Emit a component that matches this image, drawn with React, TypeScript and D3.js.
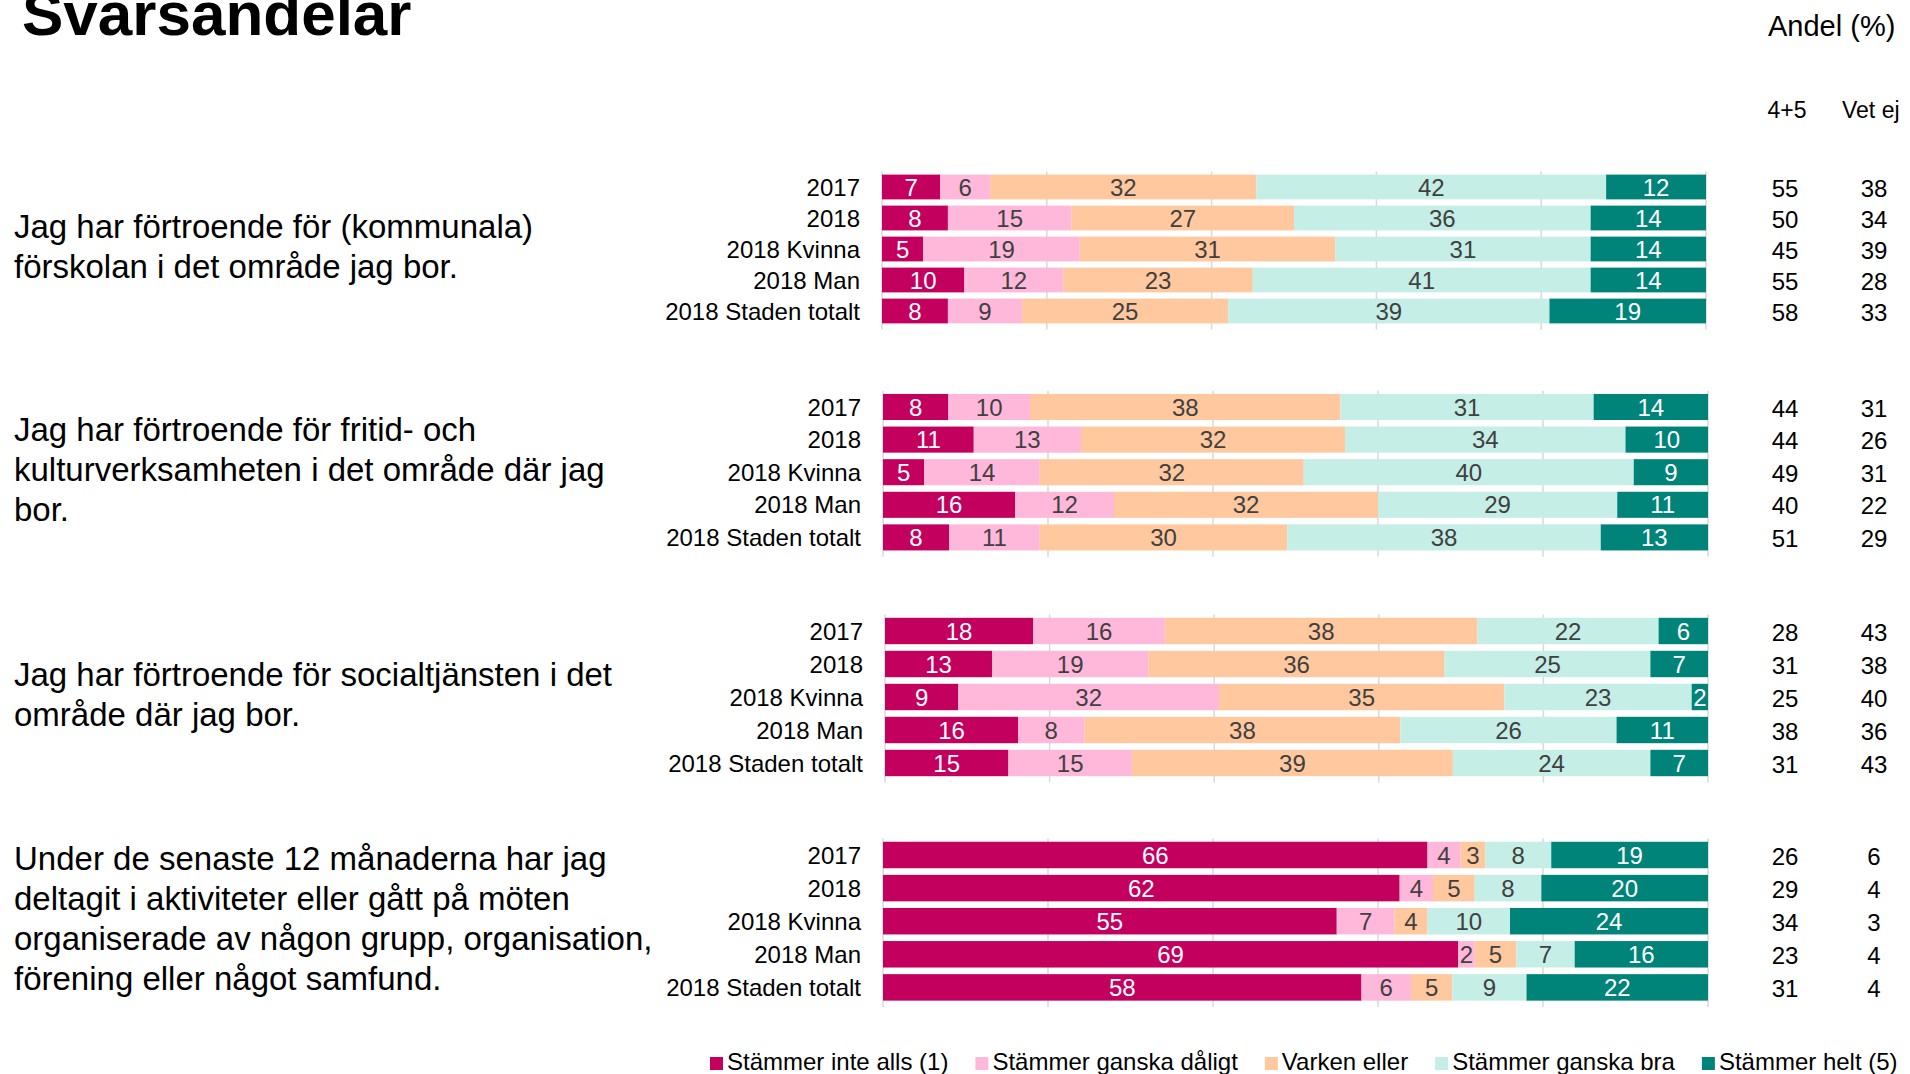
import React, { useEffect, useRef } from "react";
import * as d3 from "d3";

// ---------- data ----------
const categories = ["2017", "2018", "2018 Kvinna", "2018 Man", "2018 Staden totalt"];
const seriesNames = [
  "Stämmer inte alls (1)",
  "Stämmer ganska dåligt",
  "Varken eller",
  "Stämmer ganska bra",
  "Stämmer helt (5)",
];
const seriesColors = ["#C4005F", "#FFB8DA", "#FFC89E", "#C4EEE6", "#00847A"];
const labelColors = ["#FFFFFF", "#404040", "#404040", "#404040", "#FFFFFF"];

const questionForskolan = ["Jag har förtroende för (kommunala)", "förskolan i det område jag bor."];
const questionFritid = ["Jag har förtroende för fritid- och", "kulturverksamheten i det område där jag", "bor."];
const questionSocial = ["Jag har förtroende för socialtjänsten i det", "område där jag bor."];
const questionAktivitet = [
  "Under de senaste 12 månaderna har jag",
  "deltagit i aktiviteter eller gått på möten",
  "organiserade av någon grupp, organisation,",
  "förening eller något samfund.",
];

const valuesForskolan = [
  [7, 6, 32, 42, 12],
  [8, 15, 27, 36, 14],
  [5, 19, 31, 31, 14],
  [10, 12, 23, 41, 14],
  [8, 9, 25, 39, 19],
];
const valuesFritid = [
  [8, 10, 38, 31, 14],
  [11, 13, 32, 34, 10],
  [5, 14, 32, 40, 9],
  [16, 12, 32, 29, 11],
  [8, 11, 30, 38, 13],
];
const valuesSocial = [
  [18, 16, 38, 22, 6],
  [13, 19, 36, 25, 7],
  [9, 32, 35, 23, 2],
  [16, 8, 38, 26, 11],
  [15, 15, 39, 24, 7],
];
const valuesAktivitet = [
  [66, 4, 3, 8, 19],
  [62, 4, 5, 8, 20],
  [55, 7, 4, 10, 24],
  [69, 2, 5, 7, 16],
  [58, 6, 5, 9, 22],
];

const share45Forskolan = [55, 50, 45, 55, 58];
const share45Fritid = [44, 44, 49, 40, 51];
const share45Social = [28, 31, 25, 38, 31];
const share45Aktivitet = [26, 29, 34, 23, 31];

const vetEjForskolan = [38, 34, 39, 28, 33];
const vetEjFritid = [31, 26, 31, 22, 29];
const vetEjSocial = [43, 38, 40, 36, 43];
const vetEjAktivitet = [6, 4, 3, 4, 4];

const xTicks = [0, 20, 40, 60, 80, 100];

// ---------- layout (separate from data) ----------
const groupLayout = [
  { left: 882, right: 1706, firstCenter: 187, step: 31 },
  { left: 883, right: 1708, firstCenter: 407, step: 32.6 },
  { left: 885, right: 1708, firstCenter: 631, step: 33 },
  { left: 883, right: 1708, firstCenter: 855, step: 33.1 },
];

const FONT = "'Liberation Sans', Arial, Helvetica, sans-serif";

export default function App() {
  const ref = useRef<SVGSVGElement | null>(null);

  useEffect(() => {
    document.body.style.margin = "0";
    document.body.style.overflow = "hidden";
    const svg = d3.select(ref.current);
    svg.selectAll("*").remove();
    svg.attr("font-family", FONT);

    const groups = [
      { q: questionForskolan, v: valuesForskolan, s45: share45Forskolan, ve: vetEjForskolan },
      { q: questionFritid, v: valuesFritid, s45: share45Fritid, ve: vetEjFritid },
      { q: questionSocial, v: valuesSocial, s45: share45Social, ve: vetEjSocial },
      { q: questionAktivitet, v: valuesAktivitet, s45: share45Aktivitet, ve: vetEjAktivitet },
    ];

    // Title
    svg.append("text").attr("x", 22).attr("y", 35).attr("font-size", 62).attr("font-weight", "bold")
      .attr("fill", "#000").text("Svarsandelar");
    svg.append("text").attr("x", 1768).attr("y", 36).attr("font-size", 29).attr("fill", "#000").text("Andel (%)");
    svg.append("text").attr("x", 1787).attr("y", 118).attr("font-size", 23).attr("text-anchor", "middle")
      .attr("fill", "#000").text("4+5");
    svg.append("text").attr("x", 1842).attr("y", 118).attr("font-size", 23).attr("fill", "#000").text("Vet ej");

    const valX45 = 1785;
    const valXVet = 1874;

    groups.forEach((g, gi) => {
      const L = groupLayout[gi];
      const x = d3.scaleLinear().domain([0, 100]).range([L.left, L.right]);
      const y = d3.scaleBand<string>()
        .domain(categories)
        .range([L.firstCenter - L.step / 2, L.firstCenter + 4.5 * L.step])
        .paddingInner(0.2)
        .paddingOuter(0.1);
      const [y0, y1] = y.range();
      const gEl = svg.append("g");

      // grid
      gEl.selectAll("line.grid").data(xTicks).join("line")
        .attr("x1", (d) => x(d)).attr("x2", (d) => x(d))
        .attr("y1", y0).attr("y2", y1 + 3)
        .attr("stroke", "#D9D9D9").attr("stroke-width", 1.5);

      // bars
      g.v.forEach((row, ri) => {
        const total = d3.sum(row);
        const cum = d3.cumsum(row);
        const cat = categories[ri];
        const by = y(cat)!;
        const bh = y.bandwidth();
        row.forEach((val, si) => {
          const start = ((cum[si] - val) / total) * 100;
          const end = (cum[si] / total) * 100;
          gEl.append("rect")
            .attr("x", x(start)).attr("y", by)
            .attr("width", x(end) - x(start)).attr("height", bh)
            .attr("fill", seriesColors[si]);
        });
        row.forEach((val, si) => {
          const start = ((cum[si] - val) / total) * 100;
          const end = (cum[si] / total) * 100;
          gEl.append("text")
            .attr("x", (x(start) + x(end)) / 2).attr("y", by + bh / 2 + 8.5)
            .attr("text-anchor", "middle").attr("font-size", 24)
            .attr("fill", labelColors[si]).text(String(val));
        });
        // row label
        gEl.append("text").attr("x", L.left - 22).attr("y", by + bh / 2 + 8.5)
          .attr("text-anchor", "end").attr("font-size", 24).attr("fill", "#000").text(cat);
        // value columns
        gEl.append("text").attr("x", valX45).attr("y", by + bh / 2 + 9.5)
          .attr("text-anchor", "middle").attr("font-size", 24).attr("fill", "#000").text(String(g.s45[ri]));
        gEl.append("text").attr("x", valXVet).attr("y", by + bh / 2 + 9.5)
          .attr("text-anchor", "middle").attr("font-size", 24).attr("fill", "#000").text(String(g.ve[ri]));
      });

      // question text
      const center = L.firstCenter + 2 * L.step - 2;
      const lh = 40;
      const n = g.q.length;
      g.q.forEach((line, li) => {
        gEl.append("text").attr("x", 14)
          .attr("y", center + (li - (n - 1) / 2) * lh + 11)
          .attr("font-size", 33).attr("fill", "#000").text(line);
      });
    });

    // legend
    const legend = svg.append("g");
    let lx = 710;
    seriesNames.forEach((name, i) => {
      legend.append("rect").attr("x", lx).attr("y", 1057).attr("width", 13).attr("height", 13)
        .attr("fill", seriesColors[i]);
      const t = legend.append("text").attr("x", lx + 17).attr("y", 1070).attr("font-size", 24)
        .attr("fill", "#000").text(name);
      const w = (t.node() as SVGTextElement).getComputedTextLength();
      lx = lx + 17 + w + 27;
    });
  }, []);

  return <svg ref={ref} width={1910} height={1074} style={{ display: "block", background: "#fff" }} />;
}
